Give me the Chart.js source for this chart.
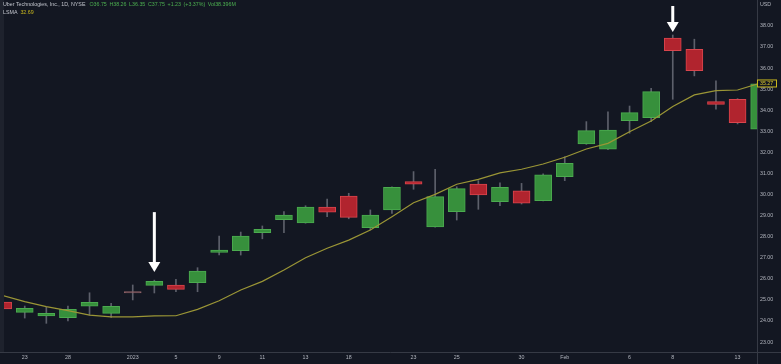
<!DOCTYPE html>
<html>
<head>
<meta charset="utf-8">
<script src="https://cdn.jsdelivr.net/npm/chart.js@4.4.0/dist/chart.umd.min.js"></script>
<style>
  html, body { margin: 0; padding: 0; background: #131722; }
  #c { display: block; }
</style>
</head>
<body>
<canvas id="c" width="781" height="364"></canvas>
<script>
// trading days shown (Dec 22 2022 .. Feb 14 2023)
const days = ['2022-12-22','2022-12-23','2022-12-27','2022-12-28','2022-12-29','2022-12-30',
  '2023-01-03','2023-01-04','2023-01-05','2023-01-06','2023-01-09','2023-01-10','2023-01-11',
  '2023-01-12','2023-01-13','2023-01-17','2023-01-18','2023-01-19','2023-01-20','2023-01-23',
  '2023-01-24','2023-01-25','2023-01-26','2023-01-27','2023-01-30','2023-01-31','2023-02-01',
  '2023-02-02','2023-02-03','2023-02-06','2023-02-07','2023-02-08','2023-02-09','2023-02-10',
  '2023-02-13','2023-02-14'];
const tickText = ['','23','','28','','','2023','','5','','9','','11','','13','','18','','','23',
  '','25','','','30','','Feb','','','6','','8','','','13',''];

const open  = [24.90,24.41,24.24,24.16,24.70,24.36,25.35,25.69,25.71,25.82,27.26,27.34,28.19,
  28.81,28.65,29.41,29.93,28.43,29.27,30.61,28.47,29.19,30.50,29.66,30.18,29.71,30.85,32.40,
  32.15,33.51,33.65,37.42,36.89,34.41,34.52,33.10];
const high  = [24.95,24.71,24.65,24.71,25.34,24.84,25.71,25.94,25.98,26.53,28.03,28.22,28.51,
  29.19,29.47,29.78,30.06,29.27,30.37,31.09,31.20,30.37,30.66,30.56,30.53,30.98,31.80,33.46,
  33.93,34.20,35.04,37.57,37.37,35.39,34.55,35.30];
const low   = [24.52,24.14,23.89,24.00,24.28,24.17,25.00,25.33,25.39,25.39,27.13,27.13,27.90,
  28.19,28.64,28.95,28.85,28.32,29.11,30.25,28.45,28.79,29.30,29.47,29.55,29.70,30.66,32.38,
  32.13,32.91,33.46,34.52,35.63,34.05,33.35,33.08];
const close = [24.57,24.60,24.36,24.55,24.89,24.70,25.33,25.88,25.50,26.37,27.37,28.03,28.35,
  29.03,29.41,29.16,28.92,29.02,30.34,30.49,29.90,30.28,29.98,30.34,29.59,30.93,31.48,33.03,
  33.06,33.89,34.88,36.83,35.88,34.28,33.41,35.25];
const lsma  = [25.20,24.92,24.68,24.49,24.28,24.20,24.20,24.24,24.25,24.55,24.96,25.47,25.88,
  26.42,27.00,27.45,27.84,28.32,28.95,29.61,30.01,30.49,30.72,31.03,31.20,31.45,31.77,32.16,
  32.43,32.98,33.49,34.18,34.73,34.93,34.96,35.27];
const priceTicks = [23,24,25,26,27,28,29,30,31,32,33,34,35,36,37,38];

const headerTitle = 'Uber Technologies, Inc., 1D, NYSE';
const headerQuote = ['O36.75','H38.26','L36.35','C37.75','+1.23','(+3.37%)','Vol38.396M'];
const studyName = 'LSMA';
const studyValue = '32.69';
// arrows point down at these candles
const arrows = [{ at: 7, gap: 8, len: 60 }, { at: 31, gap: 3, len: 26 }];

const BG = '#131722';
const TXT = '#b2b5be';
const FONT = '"Liberation Sans", Arial, sans-serif';
const UP = '#37903c', UP_LINE = '#4bab4f';
const DN = '#b1242e', DN_LINE = '#d9454d';
const DOJI = '#8d6166';

const idx = days.map((d, i) => i);
const isDoji = i => Math.abs(open[i] - close[i]) < 0.05;
const bodyFill = idx.map(i => isDoji(i) ? DOJI : close[i] >= open[i] ? UP : DN);
const bodyLine = idx.map(i => isDoji(i) ? DOJI : close[i] >= open[i] ? UP_LINE : DN_LINE);

const chrome = {
  id: 'chrome',
  beforeDraw(chart) {
    const ctx = chart.ctx;
    ctx.save();
    ctx.fillStyle = BG;
    ctx.fillRect(0, 0, chart.width, chart.height);
    ctx.fillStyle = '#1e222d';
    ctx.fillRect(0, 0, chart.chartArea.left, chart.chartArea.bottom);
    ctx.restore();
  },
  afterDraw(chart) {
    const ctx = chart.ctx, a = chart.chartArea;
    const xs = chart.scales.x, ys = chart.scales.y;
    ctx.save();
    // panel separators
    ctx.strokeStyle = '#363a45';
    ctx.lineWidth = 1;
    ctx.beginPath();
    ctx.moveTo(0, Math.round(a.bottom) + 0.5);
    ctx.lineTo(chart.width, Math.round(a.bottom) + 0.5);
    ctx.moveTo(Math.round(a.right) + 0.5, 0);
    ctx.lineTo(Math.round(a.right) + 0.5, chart.height);
    ctx.stroke();

    // header legend
    ctx.font = '5.3px ' + FONT;
    ctx.textBaseline = 'middle';
    ctx.fillStyle = '#c3c6ce';
    ctx.fillText(headerTitle, 3, 5);
    let x = 3 + ctx.measureText(headerTitle).width + 4;
    ctx.fillStyle = '#4caf50';
    headerQuote.forEach(s => {
      ctx.fillText(s, x, 5);
      x += ctx.measureText(s).width + 2.6;
    });
    ctx.fillStyle = '#c3c6ce';
    ctx.fillText(studyName, 3, 13);
    ctx.fillStyle = '#c9b81e';
    ctx.fillText(studyValue, 3 + ctx.measureText(studyName).width + 3, 13);

    // currency label
    ctx.fillStyle = TXT;
    ctx.fillText('USD', a.right + 3, 5);

    // last value tag of the moving average
    const last = lsma[lsma.length - 1];
    const ty = ys.getPixelForValue(last);
    ctx.fillStyle = BG;
    ctx.fillRect(a.right + 0.5, ty - 3.5, 19, 7);
    ctx.strokeStyle = '#c9b81e';
    ctx.strokeRect(a.right + 0.5, ty - 3.5, 19, 7);
    ctx.fillStyle = '#d8c62a';
    ctx.fillText(last.toFixed(2), a.right + 3, ty + 0.3);

    // arrows
    ctx.fillStyle = '#ffffff';
    arrows.forEach(ar => {
      const cx = xs.getPixelForValue(ar.at);
      const tip = ys.getPixelForValue(high[ar.at]) - ar.gap;
      const head = 10;
      ctx.fillRect(cx - 1.5, tip - ar.len, 3, ar.len - head + 1);
      ctx.beginPath();
      ctx.moveTo(cx - 6, tip - head);
      ctx.lineTo(cx + 6, tip - head);
      ctx.lineTo(cx, tip);
      ctx.closePath();
      ctx.fill();
    });
    ctx.restore();
  }
};

new Chart(document.getElementById('c'), {
  data: {
    datasets: [
      {
        type: 'line',
        data: idx.map(i => ({ x: i, y: lsma[i] })),
        borderColor: '#9b9636',
        borderWidth: 1.2,
        pointRadius: 0,
        tension: 0,
        order: 0
      },
      {
        type: 'bar',
        data: idx.map(i => ({ x: i, y: [open[i], close[i]] })),
        backgroundColor: bodyFill,
        borderColor: bodyLine,
        borderWidth: 1,
        borderSkipped: false,
        barThickness: 17,
        minBarLength: 1.5,
        grouped: false,
        order: 1
      },
      {
        type: 'bar',
        data: idx.map(i => ({ x: i, y: [low[i], high[i]] })),
        backgroundColor: '#5d606b',
        barThickness: 1,
        grouped: false,
        order: 2
      }
    ]
  },
  options: {
    responsive: false,
    animation: false,
    devicePixelRatio: 1,
    layout: { padding: { left: 4, top: 0, right: 0, bottom: 0 } },
    plugins: { legend: { display: false }, tooltip: { enabled: false } },
    scales: {
      x: {
        type: 'linear',
        min: 0.04,
        max: 34.9,
        offset: false,
        grid: { display: false, drawTicks: false },
        border: { display: false },
        afterBuildTicks: s => { s.ticks = idx.filter(i => tickText[i]).map(i => ({ value: i })); },
        afterFit: s => { s.height = 12; s.paddingLeft = 0; s.paddingRight = 0; },
        ticks: {
          autoSkip: false,
          maxRotation: 0,
          padding: 2,
          color: TXT,
          font: { size: 5.3, family: FONT },
          callback: v => tickText[v]
        }
      },
      y: {
        type: 'linear',
        position: 'right',
        min: 22.53,
        max: 39.23,
        grid: { display: false, drawTicks: false },
        border: { display: false },
        afterBuildTicks: s => { s.ticks = priceTicks.map(v => ({ value: v })); },
        afterFit: s => { s.width = 24; s.paddingTop = 0; s.paddingBottom = 0; },
        ticks: {
          padding: 3,
          color: TXT,
          font: { size: 5.3, family: FONT },
          callback: v => v.toFixed(2)
        }
      }
    }
  },
  plugins: [chrome]
});
</script>
</body>
</html>
